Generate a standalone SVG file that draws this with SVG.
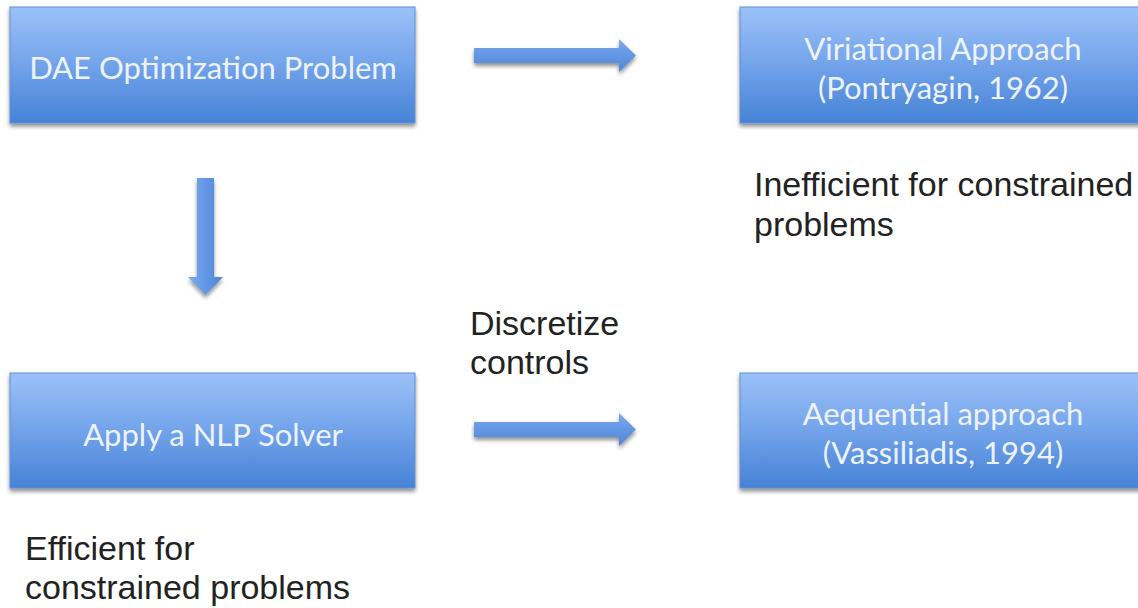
<svg xmlns="http://www.w3.org/2000/svg" width="1138" height="608" viewBox="0 0 1138 608">
<defs>
  <linearGradient id="boxGrad" x1="0" y1="0" x2="0" y2="1">
    <stop offset="0" stop-color="#9cc1f8"/>
    <stop offset="0.5" stop-color="#72a3ea"/>
    <stop offset="1" stop-color="#4682d6"/>
  </linearGradient>
  <linearGradient id="arrGradH" x1="0" y1="0" x2="0" y2="1">
    <stop offset="0" stop-color="#7aa9ee"/>
    <stop offset="1" stop-color="#4e86da"/>
  </linearGradient>
  <linearGradient id="arrGradV" x1="0" y1="0" x2="1" y2="0">
    <stop offset="0" stop-color="#7aa9ee"/>
    <stop offset="1" stop-color="#4e86da"/>
  </linearGradient>
  <filter id="shadow" x="-10%" y="-10%" width="120%" height="130%">
    <feGaussianBlur in="SourceAlpha" stdDeviation="2"/>
    <feOffset dx="0" dy="3" result="b"/>
    <feComponentTransfer><feFuncA type="linear" slope="0.45"/></feComponentTransfer>
    <feMerge><feMergeNode/><feMergeNode in="SourceGraphic"/></feMerge>
  </filter>
</defs>
<style>
  .box { fill: url(#boxGrad); stroke: #5f8fd4; stroke-width: 1; filter: url(#shadow); }
  .btxt { font-family: Lato, "Open Sans", "Liberation Sans", sans-serif; font-size: 31px; fill: #eef3fb; text-anchor: middle; }
  .lbl { font-family: "Liberation Sans", Arial, sans-serif; font-size: 34px; fill: #222222; }
  .arrH { fill: url(#arrGradH); filter: url(#shadow); }
  .arrV { fill: url(#arrGradV); filter: url(#shadow); }
</style>

<g id="node-dae">
  <rect class="box" x="10" y="7" width="405" height="116"/>
  <text class="btxt" x="213" y="79">DAE Optimization Problem</text>
</g>
<g id="node-variational">
  <rect class="box" x="740" y="7" width="410" height="116"/>
  <text class="btxt" x="943" y="60">Viriational Approach</text>
  <text class="btxt" x="943" y="99">(Pontryagin, 1962)</text>
</g>
<g id="node-nlp">
  <rect class="box" x="10" y="373" width="405" height="115"/>
  <text class="btxt" x="213" y="446">Apply a NLP Solver</text>
</g>
<g id="node-sequential">
  <rect class="box" x="740" y="373" width="410" height="115"/>
  <text class="btxt" x="943" y="425">Aequential approach</text>
  <text class="btxt" x="943" y="464">(Vassiliadis, 1994)</text>
</g>

<g id="connectors">
  <polygon class="arrH" points="474,48 619,48 619,39 636,55.5 619,72 619,63 474,63"/>
  <polygon class="arrH" points="474,422 619,422 619,413 636,429.5 619,446 619,437 474,437"/>
  <polygon class="arrV" points="197,178 214,178 214,277 223,277 205.5,295 188,277 197,277"/>
</g>

<g id="labels">
  <text class="lbl" x="754" y="196">Inefficient for constrained</text>
  <text class="lbl" x="754" y="236">problems</text>
  <text class="lbl" x="470" y="335">Discretize</text>
  <text class="lbl" x="470" y="374">controls</text>
  <text class="lbl" x="25" y="560">Efficient for</text>
  <text class="lbl" x="25" y="599">constrained problems</text>
</g>
</svg>
